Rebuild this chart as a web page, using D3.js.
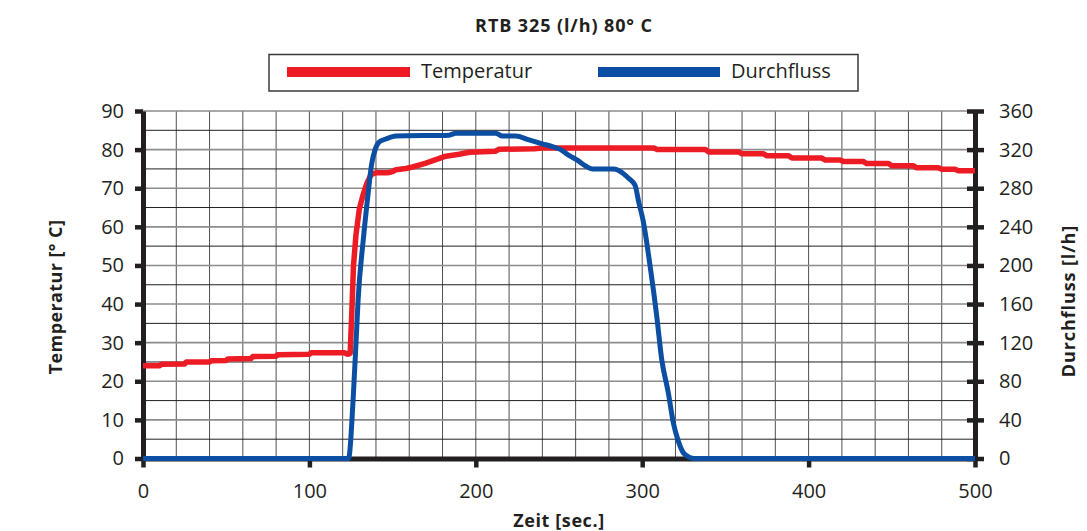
<!DOCTYPE html>
<html>
<head>
<meta charset="utf-8">
<script src="https://cdn.jsdelivr.net/npm/d3@7"></script>
<style>
  body { margin: 0; background: #fff; }
  svg { display: block; font-family: "Open Sans", sans-serif; }
  text { fill: #231f20; }
</style>
</head>
<body>
<svg id="chart" width="1087" height="531"></svg>
<script>
// RTB 325 (l/h) 80° C — temperature and flow over time

const title = "RTB 325 (l/h) 80° C";
const seriesNames = ["Temperatur", "Durchfluss"];
const seriesColors = ["#ed1c24", "#0b4ea2"];

const xTicks = [0, 100, 200, 300, 400, 500];
const leftTicks = [0, 10, 20, 30, 40, 50, 60, 70, 80, 90];
const rightTicks = [0, 40, 80, 120, 160, 200, 240, 280, 320, 360];

// Temperatur [° C] (stepwise logger values)
const tempSec = [0, 10, 11, 25, 26, 40, 41, 50, 51, 65, 66, 80, 81, 100, 101, 121, 123, 124.5,
  125.5, 126.5, 128, 130, 132.4, 134.4, 137, 140, 147, 150, 152, 158, 162, 170, 176, 182, 190,
  196, 212, 214, 235, 240, 307, 309, 338, 340, 358, 360, 373, 375, 388, 390, 408, 410, 419, 421,
  433, 435, 448, 450, 463, 465, 478, 480, 488, 490, 500];
const tempC = [24.0, 24.0, 24.4, 24.5, 25.0, 25.0, 25.3, 25.4, 25.8, 25.9, 26.4, 26.5, 26.9, 27.0,
  27.4, 27.4, 27.0, 27.2, 38, 50, 58, 64.6, 68.5, 71.1, 73.5, 74.0, 74.0, 74.3, 74.8, 75.1, 75.5,
  76.5, 77.4, 78.3, 78.8, 79.3, 79.6, 80.1, 80.2, 80.4, 80.4, 80.0, 80.0, 79.4, 79.4, 78.9, 78.9,
  78.4, 78.4, 77.8, 77.8, 77.3, 77.3, 76.9, 76.9, 76.4, 76.4, 75.8, 75.8, 75.3, 75.3, 74.9, 74.9,
  74.5, 74.5];

// Durchfluss [l/h]
const flowSec = [0, 123.5, 126.4, 128.4, 129.3, 132.4, 135, 137.4, 139.5, 142, 146,
  152, 184, 188, 212, 216, 224, 232, 240, 246, 251, 256, 261, 266, 270, 283, 288, 292, 295.7,
  298, 300.6, 304.7, 308.7, 311.7, 315.7, 318.7, 321.7, 324.7, 328.7, 331, 500];
const flowLh = [0, 0, 65, 134, 165, 227, 270, 305, 320, 328, 331, 334, 335, 337, 337, 334,
  334, 330, 326, 323, 320, 314, 309, 303, 300, 300, 296, 290, 283, 265, 246, 200, 148, 103, 68,
  37, 18, 6, 1, 0, 0];

const svg = d3.select("#chart");
const margin = { top: 111, right: 112, bottom: 72.5, left: 143 };
const width = 1087, height = 531;
const innerW = width - margin.left - margin.right;
const innerH = height - margin.top - margin.bottom;

const x = d3.scaleLinear().domain([0, 500]).range([0, innerW]);
const yL = d3.scaleLinear().domain([0, 90]).range([innerH, 0]);
const yR = d3.scaleLinear().domain([0, 360]).range([innerH, 0]);

// title
svg.append("text")
  .attr("x", 564).attr("y", 31.5)
  .attr("text-anchor", "middle")
  .style("font-size", "18px").style("font-weight", "bold")
  .style("letter-spacing", "0.9px")
  .text(title);

// legend
const legend = svg.append("g");
legend.append("rect")
  .attr("x", 269).attr("y", 54.5).attr("width", 589).attr("height", 36.5)
  .attr("fill", "none").attr("stroke", "#3a3a3a").attr("stroke-width", 1.5);
const legendItems = [{ x1: 287, x2: 410, tx: 421 }, { x1: 598, x2: 720, tx: 731 }];
legendItems.forEach((it, i) => {
  legend.append("line")
    .attr("x1", it.x1).attr("x2", it.x2).attr("y1", 72).attr("y2", 72)
    .attr("stroke", seriesColors[i]).attr("stroke-width", 10);
  legend.append("text")
    .attr("x", it.tx).attr("y", 78)
    .style("font-size", "20px")
    .text(seriesNames[i]);
});

const g = svg.append("g").attr("transform", `translate(${margin.left},${margin.top})`);

// grid: horizontal every 5°, vertical every 20 s
const hGrid = d3.range(5, 91, 5);
const vGrid = d3.range(20, 500, 20);
g.append("g").selectAll("line").data(vGrid).join("line")
  .attr("x1", d => x(d)).attr("x2", d => x(d))
  .attr("y1", 0).attr("y2", innerH)
  .attr("stroke", "#505050").attr("stroke-width", 1);
g.append("g").selectAll("line").data(hGrid).join("line")
  .attr("x1", 0).attr("x2", innerW)
  .attr("y1", d => yL(d)).attr("y2", d => yL(d))
  .attr("stroke", d => d % 10 === 0 ? "#8c8c8c" : "#231f20")
  .attr("stroke-width", d => d % 10 === 0 ? 1.6 : 1);

// axes
function styleAxis(sel) {
  sel.select(".domain").attr("stroke", "#231f20").attr("stroke-width", 5);
  sel.selectAll(".tick line").attr("stroke", "#231f20").attr("stroke-width", 4.5);
  sel.selectAll(".tick text").style("font-size", "20px").attr("fill", "#231f20");
}

const xAxisG = g.append("g")
  .attr("transform", `translate(0,${innerH})`)
  .call(d3.axisBottom(x).tickValues(xTicks).tickSizeInner(9).tickSizeOuter(0).tickPadding(16))
  .call(styleAxis);

const yAxisL = g.append("g")
  .call(d3.axisLeft(yL).tickValues(leftTicks).tickSizeInner(8).tickSizeOuter(0).tickPadding(11))
  .call(styleAxis);

const yAxisR = g.append("g")
  .attr("transform", `translate(${innerW},0)`)
  .call(d3.axisRight(yR).tickValues(rightTicks).tickSizeInner(9).tickSizeOuter(0).tickPadding(15))
  .call(styleAxis);
yAxisR.selectAll(".tick line").attr("x1", -8);

[xAxisG, yAxisL, yAxisR].forEach(a => a.attr("font-family", null));

// axis titles
function axisTitle(sel) {
  return sel.attr("text-anchor", "middle")
    .style("font-size", "18px").style("font-weight", "bold")
    .style("letter-spacing", "0.4px");
}
svg.append("text")
  .attr("transform", "translate(62,297) rotate(-90)")
  .call(axisTitle)
  .text("Temperatur [° C]");
svg.append("text")
  .attr("transform", "translate(1075,301) rotate(-90)")
  .call(axisTitle)
  .style("letter-spacing", "0.9px")
  .text("Durchfluss [l/h]");
svg.append("text")
  .attr("x", 559).attr("y", 527)
  .call(axisTitle)
  .style("letter-spacing", "0.6px")
  .text("Zeit [sec.]");

// lines
const tempLine = d3.line().x(d => x(d[0])).y(d => yL(d[1]));
const flowLine = d3.line().curve(d3.curveMonotoneX).x(d => x(d[0])).y(d => yR(d[1]));

g.append("path")
  .datum(d3.zip(tempSec, tempC))
  .attr("fill", "none")
  .attr("stroke", seriesColors[0])
  .attr("stroke-width", 5.5)
  .attr("stroke-linejoin", "round")
  .attr("d", tempLine);

g.append("path")
  .datum(d3.zip(flowSec, flowLh))
  .attr("fill", "none")
  .attr("stroke", seriesColors[1])
  .attr("stroke-width", 5)
  .attr("stroke-linejoin", "round")
  .attr("d", flowLine);
</script>
</body>
</html>
